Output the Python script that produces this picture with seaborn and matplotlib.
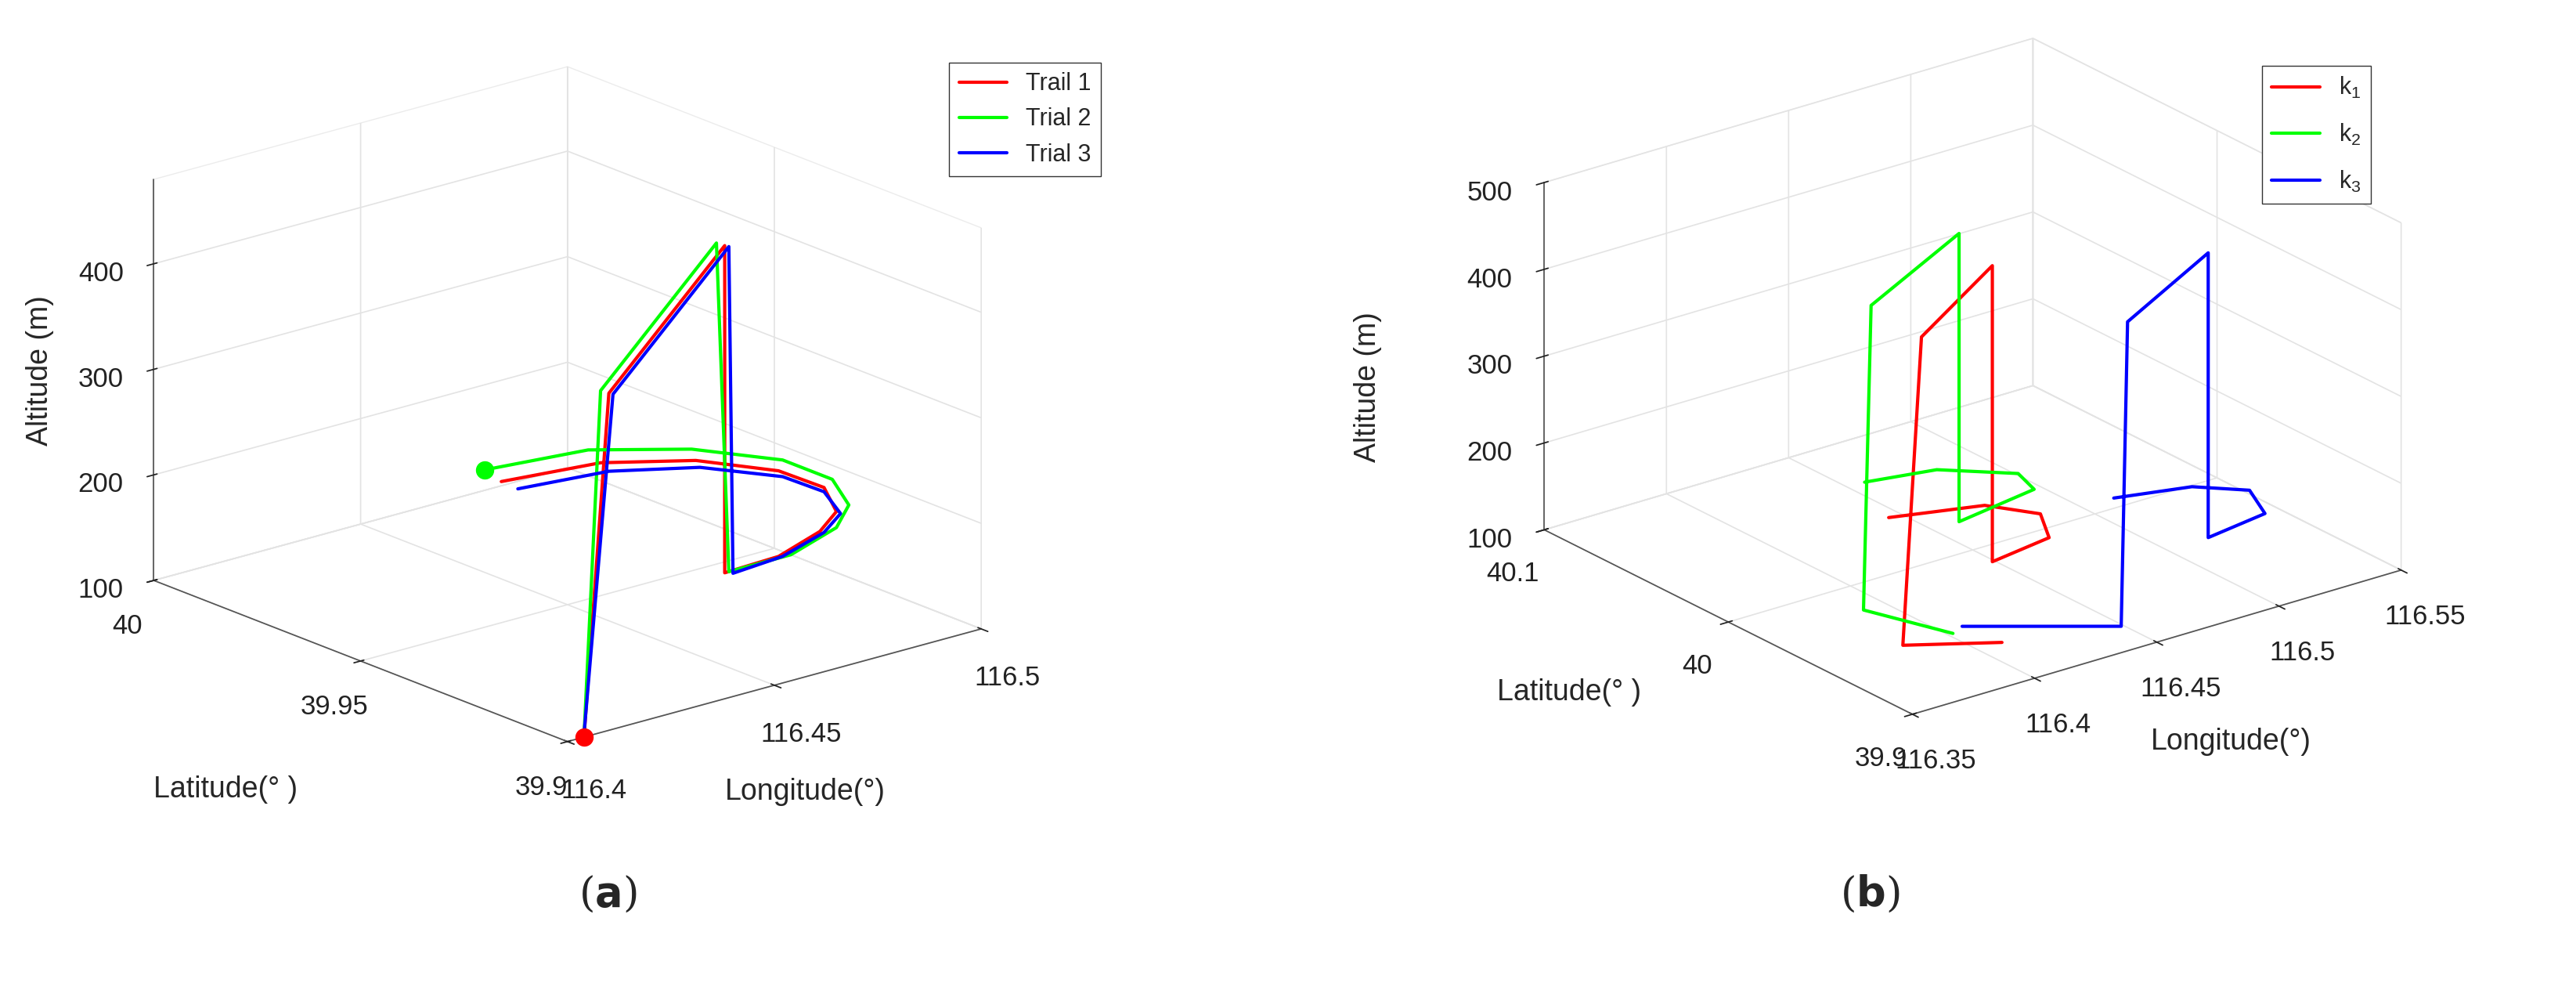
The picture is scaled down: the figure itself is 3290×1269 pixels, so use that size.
import numpy as np
import matplotlib
matplotlib.use("Agg")
import matplotlib.pyplot as plt
import seaborn as sns

sns.set_theme(style="white")
plt.rcParams['font.family'] = ['Liberation Sans', 'DejaVu Sans']
plt.rcParams['mathtext.fontset'] = 'custom'
plt.rcParams['mathtext.rm'] = 'Liberation Sans'

# Panel (a) trajectories (longitude, latitude, altitude)
lon1 = [116.404, 116.456, 116.484, 116.484, 116.493, 116.503, 116.508, 116.510, 116.505, 116.492, 116.473, 116.447]
lat1 = [39.900, 39.946, 39.946, 39.946, 39.942, 39.942, 39.943, 39.948, 39.954, 39.961, 39.965, 39.963]
alt1 = [100, 300, 410, 100, 112, 125, 137, 150, 162, 175, 187, 200]
lon2 = [116.404, 116.455, 116.483, 116.485, 116.495, 116.506, 116.511, 116.513, 116.508, 116.494, 116.474, 116.447]
lat2 = [39.900, 39.947, 39.947, 39.946, 39.941, 39.941, 39.943, 39.949, 39.956, 39.964, 39.969, 39.967]
alt2 = [100, 302, 412, 100, 113, 127, 140, 153, 166, 179, 192, 205]
lon3 = [116.405, 116.457, 116.485, 116.485, 116.494, 116.504, 116.509, 116.510, 116.505, 116.492, 116.473, 116.449]
lat3 = [39.901, 39.946, 39.946, 39.945, 39.942, 39.942, 39.943, 39.948, 39.953, 39.960, 39.963, 39.961]
alt3 = [100, 298, 408, 100, 111, 123, 134, 146, 158, 170, 182, 194]
labels_a = ["Trail 1", "Trial 2", "Trial 3"]

# Panel (b) trajectories
lonb1 = [116.410, 116.383, 116.420, 116.449, 116.449, 116.476, 116.486, 116.476, 116.445]
latb1 = [39.931, 39.949, 39.988, 39.988, 39.988, 39.993, 40.011, 40.028, 40.039]
altb1 = [100, 100, 383, 441, 100, 100, 100, 100, 100]
lonb2 = [116.402, 116.391, 116.425, 116.461, 116.461, 116.497, 116.501, 116.482, 116.457]
latb2 = [39.947, 39.981, 40.022, 40.022, 40.022, 40.029, 40.043, 40.062, 40.068]
altb2 = [100, 100, 379, 432, 100, 100, 100, 100, 100]
lonb3 = [116.408, 116.449, 116.484, 116.517, 116.517, 116.544, 116.552, 116.539, 116.513]
latb3 = [39.950, 39.918, 39.961, 39.961, 39.961, 39.966, 39.985, 39.999, 40.007]
altb3 = [100, 100, 376, 428, 100, 100, 100, 100, 100]
labels_b = ["k$_1$", "k$_2$", "k$_3$"]

colors = ["#ff0000", "#00ff00", "#0000ff"]

fig = plt.figure(figsize=(32.9, 12.69), dpi=100)

def style(ax, elev, azim, aspect):
    ax.set_proj_type('ortho')
    ax.view_init(elev=elev, azim=azim)
    ax.set_box_aspect(aspect)
    for a in (ax.xaxis, ax.yaxis, ax.zaxis):
        a.pane.fill = False
        a.pane.set_edgecolor("#d9d9d9")
        a._axinfo["grid"]["color"] = "#e3e3e3"
        a._axinfo["grid"]["linewidth"] = 1.2
        a._axinfo["axisline"]["color"] = "#555555"
        a.line.set_color("#555555")
    ax.tick_params(labelsize=25, pad=20, colors="#222222")

axa = fig.add_axes([-0.0545, 0.121, 0.54, 0.92], projection="3d")
for lo, la, al, c, lb in zip([lon1, lon2, lon3], [lat1, lat2, lat3], [alt1, alt2, alt3], colors, labels_a):
    axa.plot(lo, la, al, color=c, lw=3, label=lb)
axa.scatter([lon1[0]], [lat1[0]], [alt1[0]], color="#ff0000", s=250, depthshade=False)
axa.scatter([lon2[-1]], [lat2[-1]], [alt2[-1]], color="#00ff00", s=250, depthshade=False)
axa.set_xlim(116.4, 116.5); axa.set_ylim(39.9, 40.0); axa.set_zlim(100, 480)
axa.set_xticks([116.4, 116.45, 116.5]); axa.set_xticklabels(["116.4", "116.45", "116.5"])
axa.set_yticks([39.9, 39.95, 40.0]); axa.set_yticklabels(["39.9", "39.95", "40"])
axa.set_zticks([100, 200, 300, 400])
style(axa, 19, -129.9, (332, 397, 261))
axa.legend(loc="upper right", bbox_to_anchor=(1.11, 0.90), fontsize=22, frameon=True,
           edgecolor="#333333", fancybox=False, framealpha=1)

axb = fig.add_axes([0.491, 0.149, 0.54, 0.92], projection="3d")
for lo, la, al, c, lb in zip([lonb1, lonb2, lonb3], [latb1, latb2, latb3], [altb1, altb2, altb3], colors, labels_b):
    axb.plot(lo, la, al, color=c, lw=3, label=lb)
axb.set_xlim(116.35, 116.55); axb.set_ylim(39.9, 40.1); axb.set_zlim(100, 500)
axb.set_xticks([116.35, 116.4, 116.45, 116.5, 116.55])
axb.set_xticklabels(["116.35", "116.4", "116.45", "116.5", "116.55"])
axb.set_yticks([39.9, 40.0, 40.1]); axb.set_yticklabels(["39.9", "40", "40.1"])
axb.set_zticks([100, 200, 300, 400, 500])
style(axb, 22.6, -127.5, (385, 378, 235))
axb.legend(loc="upper right", bbox_to_anchor=(0.962, 0.866), fontsize=22, frameon=True,
           edgecolor="#333333", fancybox=False, framealpha=1, labelspacing=0.9)

# axis titles (horizontal, as in the reference)
fig.text(0.0875, 0.206, "Latitude(° )", fontsize=27, ha="center", va="center")
fig.text(0.3125, 0.203, "Longitude(°)", fontsize=27, ha="center", va="center")
fig.text(0.0156, 0.627, "Altitude (m)", fontsize=27, ha="center", va="center", rotation=90)
fig.text(0.609, 0.303, "Latitude(° )", fontsize=27, ha="center", va="center")
fig.text(0.866, 0.254, "Longitude(°)", fontsize=27, ha="center", va="center")
fig.text(0.531, 0.611, "Altitude (m)", fontsize=27, ha="center", va="center", rotation=90)

fig.text(0.236, 0.088, r"($\mathbf{a}$)", fontsize=38, ha="center", family=["DejaVu Serif"])
fig.text(0.726, 0.088, r"($\mathbf{b}$)", fontsize=38, ha="center", family=["DejaVu Serif"])

fig.savefig("out.png", dpi=100, facecolor="white")
